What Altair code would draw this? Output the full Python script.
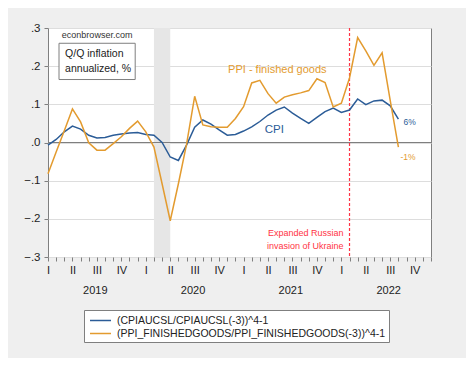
import altair as alt
import pandas as pd

# ---- data (monthly, Jan 2019 = index 0) ----
months = list(range(44))  # Jan 2019 .. Aug 2022
cpi = [-0.007, 0.008, 0.028, 0.043, 0.035, 0.019, 0.012, 0.013, 0.019, 0.022,
       0.025, 0.026, 0.021, 0.019, 0.000, -0.038, -0.047, -0.007, 0.040, 0.059,
       0.048, 0.033, 0.019, 0.021, 0.030, 0.041, 0.055, 0.072, 0.085, 0.093,
       0.077, 0.063, 0.050, 0.066, 0.081, 0.090, 0.079, 0.085, 0.114, 0.099,
       0.109, 0.111, 0.096, 0.061]
ppi = [-0.082, -0.025, 0.031, 0.088, 0.054, -0.001, -0.020, -0.020, -0.003, 0.015,
       0.037, 0.056, 0.028, -0.012, -0.108, -0.205, -0.108, -0.005, 0.121, 0.046,
       0.041, 0.040, 0.040, 0.063, 0.094, 0.156, 0.163, 0.128, 0.103, 0.119,
       0.125, 0.130, 0.136, 0.167, 0.157, 0.093, 0.103, 0.169, 0.275, 0.240,
       0.202, 0.235, 0.110, -0.012]
CPI_LABEL = "(CPIAUCSL/CPIAUCSL(-3))^4-1"
PPI_LABEL = "(PPI_FINISHEDGOODS/PPI_FINISHEDGOODS(-3))^4-1"
years = [2019, 2020, 2021, 2022]
quarters = ["I", "II", "III", "IV"]
recession_start, recession_end = [13], [15]
invasion_month = [37]
box_text = ["Q/Q inflation", "annualized, %"]
invasion_text = ["Expanded Russian", "invasion of Ukraine"]

W, H = 383, 229
FONT = "Liberation Sans"
BLUE = "#2b5c97"
ORANGE = "#e39b2f"
RED = "#ff3344"
FRAME = "#7f7f7f"

df = pd.DataFrame({
    "m": months + months,
    "v": cpi + ppi,
    "series": [CPI_LABEL] * len(cpi) + [PPI_LABEL] * len(ppi),
})

xs = alt.Scale(domain=[0, 47], nice=False, zero=False)
ys = alt.Scale(domain=[-0.3, 0.3], nice=False, zero=False)

qlist = "[" + ",".join(f"'{q}'" for q in quarters) + "]"
x_axis = alt.Axis(
    values=list(range(48)), title=None, grid=False, domain=False,
    labelExpr=f"datum.value % 3 == 0 ? {qlist}[(datum.value/3) % 4] : ''",
    labelOverlap=False, labelFlush=False, labelBound=False,
    tickSize=4, tickColor=FRAME, labelPadding=3, labelFontSize=11,
)
y_axis = alt.Axis(
    values=[-0.3, -0.2, -0.1, 0, 0.1, 0.2, 0.3], title=None, grid=True,
    gridColor="#dddddd", domain=False, labelOverlap=False, labelFlush=False,
    labelExpr="replace(format(datum.value, '.1f'), '0.', '.')",
    tickSize=4, tickColor=FRAME, labelPadding=4, labelFontSize=11.5,
)


def XQ(field):
    return alt.X(field, scale=xs, axis=x_axis)


def YQ(field):
    return alt.Y(field, scale=ys, axis=y_axis)


rec = alt.Chart(pd.DataFrame({"m": recession_start, "e": recession_end})).mark_rect(
    color="#e6e6e6").encode(
    x=XQ("m:Q"), x2="e:Q", y=alt.value(0), y2=alt.value(H))

zero = alt.Chart(pd.DataFrame({"v": [0]})).mark_rule(stroke=FRAME, strokeWidth=1).encode(
    y=YQ("v:Q"))

inv = alt.Chart(pd.DataFrame({"m": invasion_month})).mark_rule(
    color=RED, stroke=RED, opacity=1, strokeDash=[3, 2], strokeWidth=1.2).encode(
    x=XQ("m:Q"), y=alt.value(0), y2=alt.value(H))

lines = alt.Chart(df).mark_line(strokeWidth=1.5).encode(
    x=XQ("m:Q"), y=YQ("v:Q"),
    color=alt.Color("series:N", scale=alt.Scale(domain=[CPI_LABEL, PPI_LABEL], range=[BLUE, ORANGE]),
                    legend=alt.Legend(title=None, orient="none", legendX=36, legendY=282,
                                      direction="vertical")),
    order="m:Q",
)


def txt(data, color, size, align="left", dx=0, dy=0):
    return alt.Chart(pd.DataFrame(data)).mark_text(
        color=color, fontSize=size, align=align, baseline="middle", dx=dx, dy=dy, font=FONT
    ).encode(x=XQ("m:Q"), y=YQ("v:Q"), text="t:N")


box = alt.Chart(pd.DataFrame({"m": [1.35], "m2": [10.7], "v": [0.26], "v2": [0.165]})).mark_rect(
    fill="white", stroke=FRAME, strokeWidth=1).encode(
    x=XQ("m:Q"), x2="m2:Q", y=YQ("v:Q"), y2="v2:Q")

t_site = txt({"m": [1.7], "v": [0.281], "t": ["econbrowser.com"]}, "#333333", 9)
t_box = txt({"m": [2.1, 2.1], "v": [0.231, 0.192], "t": box_text}, "#222222", 10.5)
t_ppi = txt({"m": [22.1], "v": [0.19], "t": ["PPI - finished goods"]}, ORANGE, 11)
t_cpi = txt({"m": [26.6], "v": [0.032], "t": ["CPI"]}, BLUE, 11.5)
t_inv = txt({"m": invasion_month * 2, "v": [-0.238, -0.270], "t": invasion_text}, RED, 9,
            align="right", dx=-6)
t_6 = txt({"m": [months[-1]], "v": [cpi[-1]], "t": ["6%"]}, BLUE, 8.5, dx=5, dy=3)
t_1 = txt({"m": [months[-1]], "v": [ppi[-1]], "t": ["-1%"]}, ORANGE, 8.5, dx=2, dy=10)

yr = alt.Chart(pd.DataFrame({"year": years})).transform_calculate(
    m="(datum.year - 2019) * 12 + 5.8").mark_text(
    fontSize=11, font=FONT, color="#222222", baseline="middle").encode(
    x=XQ("m:Q"), y=alt.value(263), text="year:N")

chart = alt.layer(
    rec, zero, inv, lines, box, t_site, t_box, t_ppi, t_cpi, t_inv, t_6, t_1, yr
).properties(
    width=W, height=H,
    autosize=alt.AutoSizeParams(type="none"),
    padding={"left": 40, "top": 20, "right": 35, "bottom": 101},
    background="#efefef",
).configure_view(
    fill="white", stroke=FRAME, strokeWidth=1
).configure_axis(
    labelFont=FONT, labelColor="#222222"
).configure_legend(
    labelFont=FONT, labelFontSize=10.5, labelColor="#222222", labelLimit=0,
    symbolType="M-0.69,0H2.54", symbolSize=169, symbolStrokeWidth=1.5,
    strokeColor=FRAME, fillColor="white", padding=3, rowPadding=0, labelOffset=15,
    cornerRadius=0,
)

chart.save("out.html", embed_options={"renderer": "svg", "actions": False})
